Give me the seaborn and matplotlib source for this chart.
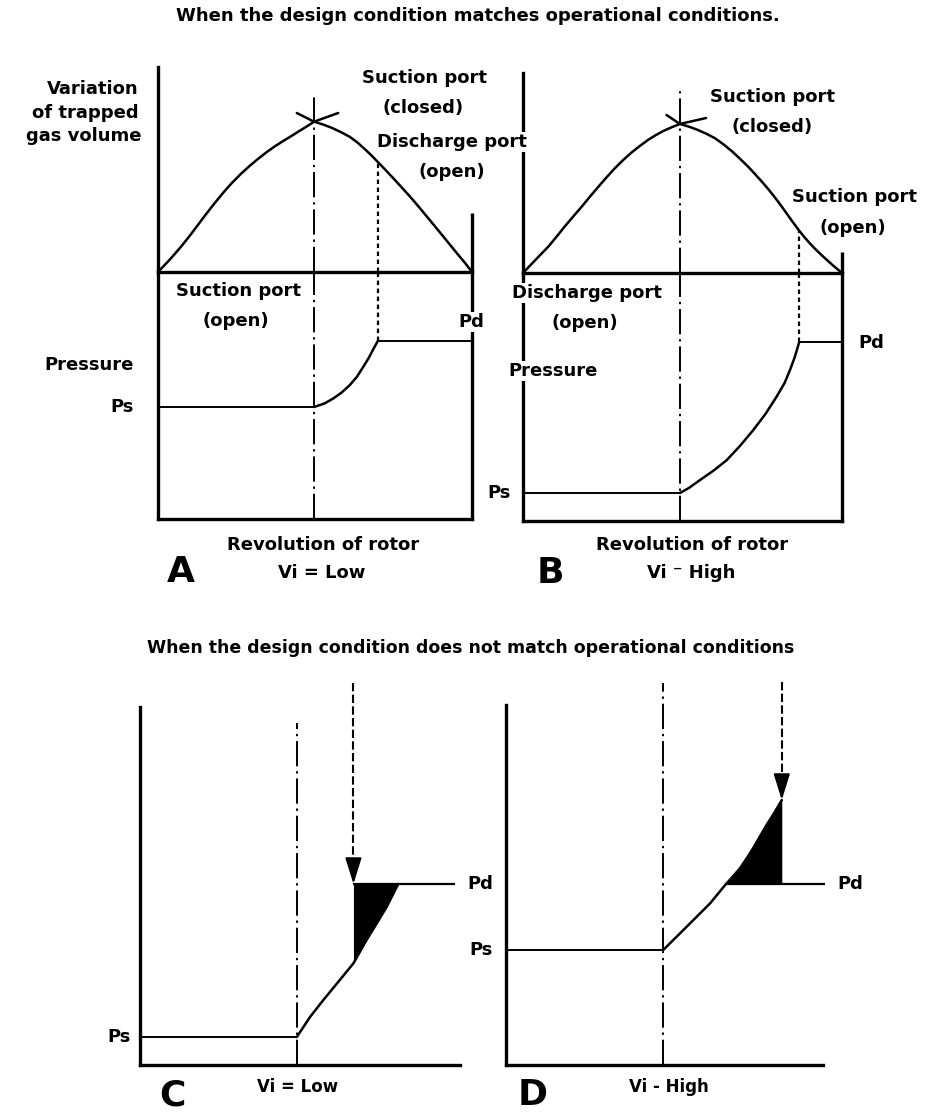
import matplotlib.pyplot as plt
import seaborn as sns

# ── Setup ──────────────────────────────────────────────
sns.set_theme(style="white")
plt.rcParams["font.family"] = "DejaVu Sans"
plt.rcParams["font.weight"] = "bold"

W, H = 926, 1113
fig = plt.figure(figsize=(W / 100, H / 100), dpi=100)
fig.patch.set_facecolor("white")

# ── Data ───────────────────────────────────────────────
# rotor revolution as fraction of the cycle, trapped volume as fraction of max
a_rot = [0.0, 0.04, 0.074, 0.1, 0.125, 0.15, 0.18, 0.21, 0.235, 0.265, 0.293,
         0.32, 0.345, 0.372, 0.399, 0.425, 0.45, 0.475, 0.497,
         0.525, 0.555, 0.585, 0.611, 0.635, 0.66, 0.68, 0.702, 0.73, 0.755,
         0.78, 0.803, 0.83, 0.855, 0.88, 0.909, 0.93, 0.955, 0.978, 1.0]
a_vol = [0.0, 0.088, 0.17, 0.238, 0.307, 0.377, 0.457, 0.533, 0.592, 0.655, 0.708,
         0.755, 0.796, 0.836, 0.872, 0.905, 0.938, 0.97, 1.0,
         0.982, 0.958, 0.928, 0.899, 0.862, 0.815, 0.775, 0.728, 0.667, 0.611,
         0.554, 0.501, 0.435, 0.372, 0.309, 0.235, 0.181, 0.117, 0.06, 0.0]
b_rot = [0.0, 0.04, 0.079, 0.105, 0.13, 0.157, 0.184, 0.21, 0.236, 0.262, 0.288,
         0.314, 0.34, 0.366, 0.392, 0.416, 0.44, 0.466, 0.492,
         0.52, 0.548, 0.575, 0.602, 0.628, 0.655, 0.68, 0.706, 0.728, 0.75,
         0.77, 0.79, 0.81, 0.828, 0.846, 0.863, 0.88, 0.9, 0.918, 0.937, 0.97, 1.0]
b_vol = [0.0, 0.09, 0.176, 0.243, 0.31, 0.378, 0.445, 0.513, 0.578, 0.642, 0.703,
         0.758, 0.808, 0.852, 0.893, 0.925, 0.953, 0.978, 1.0,
         0.982, 0.96, 0.934, 0.904, 0.864, 0.817, 0.767, 0.713, 0.662, 0.61,
         0.56, 0.506, 0.449, 0.395, 0.341, 0.292, 0.246, 0.197, 0.157, 0.118,
         0.054, 0.0]

# peak cross marks
a_cross_x = [0.442, 0.497, 0.574]
a_cross_y = [1.058, 1.0, 1.058]
b_cross_x = [0.45, 0.492, 0.574]
b_cross_y = [1.06, 1.0, 1.04]

# pressure (arbitrary units, 0 = bottom of frame)
a_p_rot = [0.497, 0.53, 0.559, 0.585, 0.611, 0.633, 0.654, 0.671, 0.686, 0.70]
a_p = [1.12, 1.155, 1.207, 1.265, 1.34, 1.42, 1.523, 1.61, 1.70, 1.78]
a_ps, a_pd = 1.12, 1.78

b_p_rot = [0.492, 0.52, 0.555, 0.6, 0.639, 0.68, 0.722, 0.76, 0.795, 0.82,
           0.837, 0.852, 0.866]
b_p = [0.28, 0.33, 0.41, 0.51, 0.61, 0.75, 0.91, 1.07, 1.243, 1.38,
       1.51, 1.64, 1.79]
b_ps, b_pd = 0.28, 1.79

c_rot = [0.49, 0.532, 0.573, 0.62, 0.667, 0.708, 0.74, 0.771, 0.807]
c_p = [0.28, 0.483, 0.65, 0.833, 1.017, 1.25, 1.417, 1.583, 1.81]
c_ps, c_pd = 0.28, 1.81

d_rot = [0.496, 0.57, 0.644, 0.694, 0.717, 0.738, 0.76, 0.78, 0.80, 0.822, 0.846, 0.87]
d_p = [1.15, 1.383, 1.617, 1.81, 1.89, 1.967, 2.07, 2.17, 2.28, 2.40, 2.52, 2.65]
d_ps, d_pd = 1.15, 1.81

# ── Helpers ────────────────────────────────────────────
def panel(x0, y0, x1, y1, ylim, sides):
    ax = fig.add_axes([x0 / W, 1 - y1 / H, (x1 - x0) / W, (y1 - y0) / H])
    ax.set_xlim(0, 1)
    ax.set_ylim(0, ylim)
    ax.set_xticks([])
    ax.set_yticks([])
    ax.patch.set_alpha(0)
    for s, sp in ax.spines.items():
        sp.set_visible(s in sides)
        sp.set_color("black")
        sp.set_linewidth(2.4)
        sp.set_capstyle("projecting")
    return ax

LW = 1.8
DASHDOT = (0, (13, 2.5, 1.2, 2.5))
DOTTED = (0, (2, 1.6))


def curve(ax, x, y):
    sns.lineplot(x=x, y=y, ax=ax, color="black", lw=LW,
                 solid_joinstyle="round", solid_capstyle="round")


def centre_line(ax, x, top):
    ax.plot([x, x], [0, top], color="black", lw=1.4, ls=DASHDOT)


def arrow(ax, x, top, tip):
    ax.plot([x, x], [top, tip + 0.2], color="black", lw=1.5, ls=(0, (4, 1.6)),
            clip_on=False)
    ax.annotate("", xy=(x, tip), xytext=(x, tip + 0.25),
                arrowprops=dict(arrowstyle="-|>,head_length=1.6,head_width=0.5",
                                color="black", lw=1.5, shrinkA=0, shrinkB=0,
                                mutation_scale=10))


# ══════════════════════════════════════════════════════
# PANEL A
# ══════════════════════════════════════════════════════
ax = panel(158, 67, 472, 272, 1.364, ["left", "bottom"])
curve(ax, a_rot, a_vol)
ax.plot(a_cross_x, a_cross_y, color="black", lw=LW, clip_on=False)
centre_line(ax, 0.497, 1.19)
ax.plot([0.70, 0.70], [0, 0.728], color="black", lw=1.6, ls=DOTTED)
ax.plot([1, 1], [0, 0.393], color="black", lw=2.4, solid_capstyle="butt",
        clip_on=False)

ax = panel(158, 272, 472, 519, 2.47, ["left", "bottom", "right"])
ax.hlines(a_ps, 0, a_p_rot[0], color="black", lw=1.4)
curve(ax, a_p_rot, a_p)
ax.hlines(a_pd, a_p_rot[-1], 1, color="black", lw=1.4)
centre_line(ax, 0.497, 2.47)
ax.plot([0.70, 0.70], [a_pd, 2.47], color="black", lw=1.6, ls=DOTTED)

# ══════════════════════════════════════════════════════
# PANEL B
# ══════════════════════════════════════════════════════
ax = panel(523, 73, 842, 273, 1.342, ["left", "bottom"])
curve(ax, b_rot, b_vol)
ax.plot(b_cross_x, b_cross_y, color="black", lw=LW, clip_on=False)
centre_line(ax, 0.492, 1.22)
ax.plot([0.866, 0.866], [0, 0.285], color="black", lw=1.6, ls=DOTTED)
ax.plot([1, 1], [0, 0.141], color="black", lw=2.4, solid_capstyle="butt",
        clip_on=False)

ax = panel(523, 273, 842, 521, 2.48, ["left", "bottom", "right"])
ax.hlines(b_ps, 0, b_p_rot[0], color="black", lw=1.4)
curve(ax, b_p_rot, b_p)
ax.hlines(b_pd, b_p_rot[-1], 1, color="black", lw=1.4)
centre_line(ax, 0.492, 2.48)
ax.plot([0.866, 0.866], [b_pd, 2.48], color="black", lw=1.6, ls=DOTTED)

# ══════════════════════════════════════════════════════
# PANEL C
# ══════════════════════════════════════════════════════
ax = panel(140, 683, 460, 1065, 3.82, ["left", "bottom"])
ax.spines["left"].set_bounds(0, 3.58)
centre_line(ax, c_rot[0], 3.42)
ax.hlines(c_ps, 0, c_rot[0], color="black", lw=1.4)
curve(ax, c_rot, c_p)
ax.hlines(c_pd, 0.667, 0.984, color="black", lw=1.6)
ax.fill_between(c_rot[4:], c_p[4:], c_pd, color="black", lw=0)
arrow(ax, 0.667, 3.82, c_pd)

# ══════════════════════════════════════════════════════
# PANEL D
# ══════════════════════════════════════════════════════
ax = panel(506, 682, 823, 1065, 3.83, ["left", "bottom"])
ax.spines["left"].set_bounds(0, 3.6)
centre_line(ax, d_rot[0], 3.82)
ax.hlines(d_ps, 0, d_rot[0], color="black", lw=1.4)
curve(ax, d_rot, d_p)
ax.hlines(d_pd, d_rot[3], 1.006, color="black", lw=1.6, clip_on=False)
ax.fill_between(d_rot[3:], d_p[3:], d_pd, color="black", lw=0)
arrow(ax, d_rot[-1], 3.83, d_p[-1])

# ── Text overlay (pixel coordinates) ───────────────────
ov = fig.add_axes([0, 0, 1, 1])
ov.set_xlim(0, W)
ov.set_ylim(H, 0)
ov.axis("off")
ov.patch.set_alpha(0)

BOX = dict(facecolor="white", edgecolor="none", pad=1.0)


def label(x, y, s, size=13, ha="center"):
    ov.text(x, y, s, ha=ha, va="center", fontsize=size, fontweight="bold",
            color="black", bbox=BOX)


label(478, 16, "When the design condition matches operational conditions.", 13)
label(471, 648, "When the design condition does not match operational conditions", 12.5)

# A
label(139, 89, "Variation", ha="right")
label(139, 113, "of trapped", ha="right")
label(141, 136, "gas volume", ha="right")
label(424, 78, "Suction port")
label(423, 108, "(closed)")
label(452, 142, "Discharge port")
label(452, 172, "(open)")
label(238, 291, "Suction port")
label(236, 321, "(open)")
label(471, 322, "Pd")
label(134, 365, "Pressure", ha="right")
label(134, 407, "Ps", ha="right")
label(323, 545, "Revolution of rotor")
label(322, 573, "Vi = Low")
label(181, 572, "A", 26)

# B
label(773, 97, "Suction port")
label(772, 127, "(closed)")
label(855, 197, "Suction port")
label(853, 228, "(open)")
label(587, 293, "Discharge port")
label(585, 323, "(open)")
label(553, 371, "Pressure")
label(858, 343, "Pd", ha="left")
label(511, 493, "Ps", ha="right")
label(692, 545, "Revolution of rotor")
label(691, 573, "Vi \u207b High")
label(550, 573, "B", 26)

# C
label(467, 884, "Pd", ha="left")
label(131, 1037, "Ps", ha="right")
label(298, 1087, "Vi = Low", 12)
label(172, 1095, "C", 26)

# D
label(837, 884, "Pd", ha="left")
label(493, 950, "Ps", ha="right")
label(669, 1087, "Vi - High", 12)
label(533, 1095, "D", 26)

plt.savefig("out.png", dpi=100, facecolor="white")
plt.close()
print("saved out.png")
